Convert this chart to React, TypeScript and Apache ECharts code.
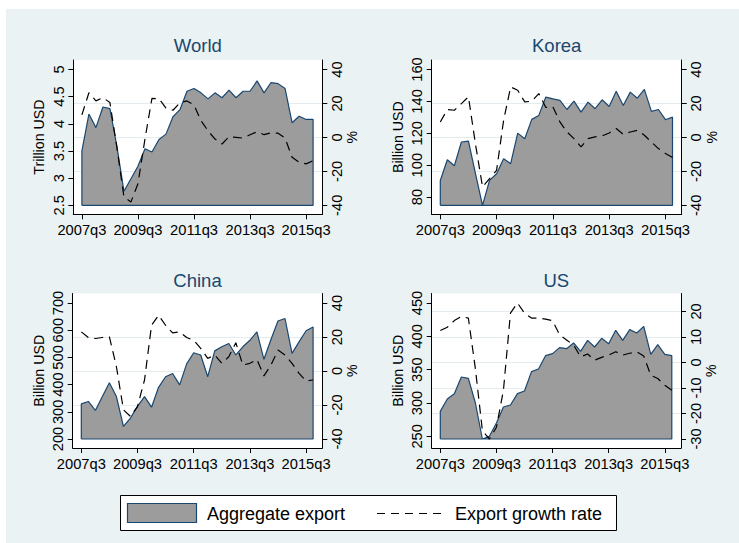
import React, { useEffect, useRef } from "react";
import * as echarts from "echarts";

const quarters = [
  "2007q3", "2007q4", "2008q1", "2008q2", "2008q3", "2008q4",
  "2009q1", "2009q2", "2009q3", "2009q4", "2010q1", "2010q2",
  "2010q3", "2010q4", "2011q1", "2011q2", "2011q3", "2011q4",
  "2012q1", "2012q2", "2012q3", "2012q4", "2013q1", "2013q2",
  "2013q3", "2013q4", "2014q1", "2014q2", "2014q3", "2014q4",
  "2015q1", "2015q2", "2015q3", "2015q4",
];
const xTickLabels = ["2007q3", "2009q3", "2011q3", "2013q3", "2015q3"];

const worldExport = [3.50, 4.18, 3.93, 4.31, 4.28, 3.58, 2.76, 2.99, 3.22, 3.54, 3.48, 3.71, 3.81, 4.13, 4.26, 4.60, 4.65, 4.57, 4.46, 4.57, 4.48, 4.62, 4.48, 4.60, 4.60, 4.79, 4.57, 4.76, 4.74, 4.65, 4.02, 4.14, 4.08, 4.08];
const worldGrowth = [13.3, 26.3, 21.5, 23.4, 20.5, -6, -35.1, -38, -27.3, -1, 23, 22.8, 17.2, 16, 20.5, 21.5, 19.1, 9.8, 3.9, -1, -3.9, 0.4, 0, -0.4, 1.6, 3.3, 1.6, 2.7, 2.5, -0.4, -11.7, -14.6, -15.6, -13.7];

const koreaExport = [90.4, 103.4, 99.6, 114.5, 115.1, 94.6, 74.8, 90.4, 94.6, 104, 100.9, 120.1, 116.6, 128.7, 131.2, 142.7, 141.6, 140.6, 134.9, 140.2, 133.3, 139.5, 135.4, 141, 136.8, 146.4, 137.4, 145.8, 142, 147.5, 133.7, 134.9, 128.5, 130.1];
const koreaGrowth = [9.1, 16.4, 16, 19.9, 23.9, -4, -29.2, -24.3, -19.4, 10.1, 29.7, 27.8, 20.9, 21.3, 25.8, 17.6, 18, 9.1, 3.2, -0.7, -5.6, -0.7, 0.3, 0.9, 2.6, 5.2, 1.8, 3.2, 4.2, 1.3, -2.7, -6.6, -9.5, -11.9];

const chinaExport = [329, 338, 305, 356, 407, 356, 246, 277, 320, 356, 317, 390, 429, 441, 399, 476, 517, 509, 429, 524, 539, 551, 509, 539, 563, 594, 493, 566, 634, 643, 515, 557, 598, 612];
const chinaGrowth = [23, 19.7, 19.1, 19.7, 20.1, 2.5, -22.8, -26.7, -20.9, -5.3, 26.9, 32.8, 26.9, 22.4, 23, 19.7, 18.1, 13.3, 7.4, 9.4, 4.5, 8.4, 16.6, 3.5, 4.5, 6.8, -2.9, 3.5, 12.3, 9.4, 4.5, -1.4, -5.9, -5.3];

const usExport = [287.5, 306, 314, 339, 337, 300, 246, 250, 270, 294, 297, 314, 318, 347, 351, 371, 374, 383, 381.5, 390, 377.5, 394, 384, 397, 389, 409, 394, 410, 405, 415, 373, 387.5, 373, 371];
const usGrowth = [12.5, 13.8, 16.4, 18, 17.4, -2.4, -26.7, -30, -25.4, -10.9, 19.3, 23.3, 19.3, 17.4, 17.4, 17, 16.4, 10.8, 8.8, 6.8, 2.2, 3.3, 0.9, 2, 2.9, 4.2, 2.9, 3.6, 4.2, 2.5, -5, -6.3, -8.9, -10.9];

const worldLeftTicks = [2.5, 3, 3.5, 4, 4.5, 5];
const koreaLeftTicks = [80, 100, 120, 140, 160];
const chinaLeftTicks = [200, 300, 400, 500, 600, 700];
const usLeftTicks = [250, 300, 350, 400, 450];
const pctTicks = [-40, -20, 0, 20, 40];
const usPctTicks = [-30, -20, -10, 0, 10, 20];

const panelTitles = ["World", "Korea", "China", "US"];
const panelUnits = ["Trillion USD", "Billion USD", "Billion USD", "Billion USD"];
const legendLabels = ["Aggregate export", "Export growth rate"];

const FONT = "'Liberation Sans', Arial, Helvetica, sans-serif";
const NAVY = "#1a476f";
const BG = "#eaf2f3";
const FILL = "#9c9c9c";
const GRIDLINE = "#e4ecef";

const layouts = [
  { left: 73.3, top: 60, width: 249, height: 154.3 },
  { left: 431.7, top: 60, width: 250, height: 154.3 },
  { left: 72.7, top: 293.5, width: 249.6, height: 154.5 },
  { left: 431.7, top: 293.5, width: 249.3, height: 154.5 },
];
const PAD_L = 8.6;
const PAD_R = 9.2;
const PAD_T = 9.5;
const PAD_B = 9.0;

export default function App() {
  const ref = useRef<HTMLDivElement>(null);

  useEffect(() => {
    if (!ref.current) return;
    const chart = echarts.init(ref.current, null, { renderer: "svg" });

    const exps = [worldExport, koreaExport, chinaExport, usExport];
    const grs = [worldGrowth, koreaGrowth, chinaGrowth, usGrowth];
    const lts = [worldLeftTicks, koreaLeftTicks, chinaLeftTicks, usLeftTicks];
    const rts = [pctTicks, pctTicks, pctTicks, usPctTicks];
    const xTickIdx = xTickLabels.map((l) => quarters.indexOf(l));
    const last = quarters.length - 1;

    const grid: any[] = [];
    const xAxis: any[] = [];
    const yAxis: any[] = [];
    const series: any[] = [];
    const graphic: any[] = [];

    const tickLabelStyle = { color: "#000", fontSize: 14.7, fontFamily: FONT };

    for (let g = 0; g < 4; g++) {
      const L = layouts[g];
      grid.push({
        left: L.left, top: L.top, width: L.width, height: L.height,
        show: true, backgroundColor: "#ffffff", borderWidth: 0,
      });
      const ppq = (L.width - PAD_L - PAD_R) / last;
      xAxis.push({
        type: "value", gridIndex: g,
        min: -PAD_L / ppq, max: last + PAD_R / ppq,
        axisLine: { show: true, onZero: false, lineStyle: { color: "#000", width: 1 } },
        axisTick: { show: true, customValues: xTickIdx, length: 5, lineStyle: { color: "#000", width: 1 } },
        axisLabel: { customValues: xTickIdx, formatter: (v: number) => quarters[Math.round(v)], margin: 8, ...tickLabelStyle },
        splitLine: { show: false },
      });

      const exp = exps[g], gr = grs[g], lt = lts[g], rt = rts[g];
      const lLo = Math.min(Math.min(...exp), Math.min(...lt));
      const lHi = Math.max(Math.max(...exp), Math.max(...lt));
      const rLo = Math.min(Math.min(...gr), Math.min(...rt));
      const rHi = Math.max(Math.max(...gr), Math.max(...rt));
      const S = L.height - PAD_T - PAD_B;
      const ext = (lo: number, hi: number) => ({
        min: lo - ((hi - lo) * PAD_B) / S,
        max: hi + ((hi - lo) * PAD_T) / S,
      });
      const le = ext(lLo, lHi);
      const re = ext(rLo, rHi);
      const gridTicks = rt.filter((t) => t !== rLo && t !== rHi);

      yAxis.push({
        type: "value", gridIndex: g, position: "left", min: le.min, max: le.max,
        axisLine: { show: true, onZero: false, lineStyle: { color: "#000", width: 1 } },
        axisTick: { show: true, customValues: lt, length: 5, lineStyle: { color: "#000", width: 1 } },
        axisLabel: { customValues: lt, rotate: 90, formatter: (v: number) => String(v), margin: 7, ...tickLabelStyle },
        splitLine: { show: false },
        name: panelUnits[g], nameLocation: "middle", nameGap: 27, nameRotate: 90,
        nameTextStyle: { color: "#000", fontSize: 14.2, fontFamily: FONT },
      });
      yAxis.push({
        type: "value", gridIndex: g, position: "right", min: re.min, max: re.max,
        axisLine: { show: true, onZero: false, lineStyle: { color: "#000", width: 1 } },
        axisTick: { show: true, customValues: rt, length: 5, lineStyle: { color: "#000", width: 1 } },
        axisLabel: { customValues: rt, rotate: 90, formatter: (v: number) => String(v), margin: 7, ...tickLabelStyle },
        splitLine: { show: false },
        name: "%", nameLocation: "middle", nameGap: 22, nameRotate: 90,
        nameTextStyle: { color: "#000", fontSize: 14.2, fontFamily: FONT },
      });
      yAxis.push({
        type: "value", gridIndex: g, position: "right", min: re.min, max: re.max,
        axisLine: { show: false },
        axisTick: { show: false, customValues: gridTicks },
        axisLabel: { show: false },
        splitLine: { show: true, lineStyle: { color: GRIDLINE, width: 1 } },
      });

      const areaData: number[][] = [[0, lLo]];
      exp.forEach((v, i) => areaData.push([i, v]));
      areaData.push([last, lLo]);
      areaData.push([0, lLo]);
      series.push({
        type: "line", name: legendLabels[0], xAxisIndex: g, yAxisIndex: 3 * g,
        data: areaData, symbol: "none", showSymbol: false, z: 2,
        lineStyle: { color: NAVY, width: 1.2 },
        areaStyle: { color: FILL, opacity: 1, origin: lLo },
      });
      series.push({
        type: "line", name: legendLabels[1], xAxisIndex: g, yAxisIndex: 3 * g + 1,
        data: gr.map((v, i) => [i, v]), symbol: "none", showSymbol: false, z: 3,
        lineStyle: { color: "#000", width: 1.2, type: [9, 6] },
      });

      graphic.push({
        type: "text", x: L.left + L.width / 2, y: g < 2 ? 45 : 280, z: 10,
        style: { text: panelTitles[g], fill: NAVY, fontSize: 18.5, fontFamily: FONT, align: "center", verticalAlign: "middle" },
      });
    }

    // white outer margins of the image
    graphic.push({ type: "rect", shape: { x: 0, y: 0, width: 739, height: 9 }, style: { fill: "#fff" }, z: 10 });
    graphic.push({ type: "rect", shape: { x: 0, y: 0, width: 6, height: 543 }, style: { fill: "#fff" }, z: 10 });

    // legend
    graphic.push({ type: "rect", shape: { x: 120.5, y: 495.5, width: 496, height: 35 }, style: { fill: "#fff", stroke: "#000", lineWidth: 1 }, z: 10 });
    graphic.push({ type: "rect", shape: { x: 127.5, y: 503.5, width: 69, height: 19 }, style: { fill: FILL, stroke: NAVY, lineWidth: 1.2 }, z: 11 });
    graphic.push({ type: "text", x: 207, y: 513.5, z: 11, style: { text: legendLabels[0], fill: "#000", fontSize: 18, fontFamily: FONT, verticalAlign: "middle" } });
    graphic.push({ type: "line", shape: { x1: 377, y1: 513.5, x2: 443, y2: 513.5 }, style: { stroke: "#000", lineWidth: 1.2, lineDash: [8, 6] }, z: 11 });
    graphic.push({ type: "text", x: 455, y: 513.5, z: 11, style: { text: legendLabels[1], fill: "#000", fontSize: 18, fontFamily: FONT, verticalAlign: "middle" } });

    chart.setOption({
      animation: false,
      backgroundColor: BG,
      grid, xAxis, yAxis, series, graphic,
    });

    return () => chart.dispose();
  }, []);

  return <div ref={ref} style={{ position: "fixed", left: 0, top: 0, width: 739, height: 543 }} />;
}
